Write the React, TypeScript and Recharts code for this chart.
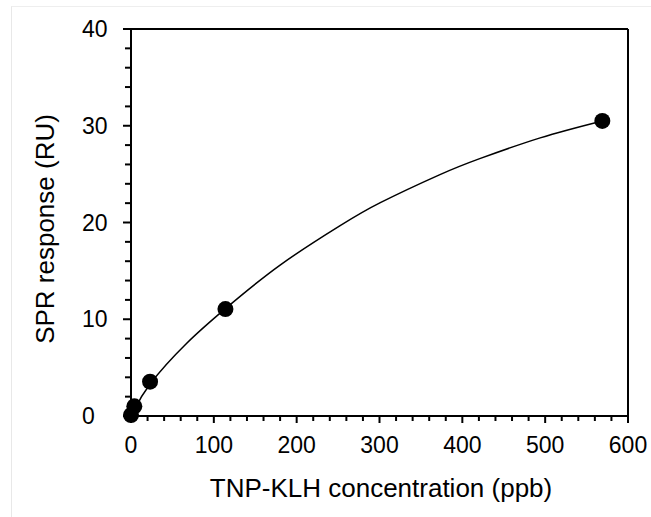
import React from "react";
import {
  ComposedChart,
  Line,
  Scatter,
  XAxis,
  YAxis,
  ReferenceLine,
  Label,
} from "recharts";

// measured points (concentration ppb, SPR response RU)
const pointX = [0, 4, 23, 114, 569];
const pointY = [0.1, 1.0, 3.55, 11.05, 30.5];

// fitted curve
const curveX = [0, 4, 23, 67, 114, 180, 252, 301, 373, 421, 494, 569];
const curveY = [0, 0.6, 3.3, 7.5, 11.1, 15.6, 19.65, 22.05, 24.95, 26.6, 28.75, 30.5];

const xTicks = [
  0, 20, 40, 60, 80, 100, 120, 140, 160, 180, 200, 220, 240, 260, 280, 300,
  320, 340, 360, 380, 400, 420, 440, 460, 480, 500, 520, 540, 560, 580, 600,
];
const xLabels = [0, 100, 200, 300, 400, 500, 600];

const yTicks = [0, 2, 4, 6, 8, 10, 12, 14, 16, 18, 20, 22, 24, 26, 28, 30, 32, 34, 36, 38, 40];
const yLabels = [0, 10, 20, 30, 40];

const points = pointX.map((x, i) => ({ x, y: pointY[i] }));
const curve = curveX.map((x, i) => ({ x, y: curveY[i] }));

const FONT = "'Liberation Sans', Arial, Helvetica, sans-serif";

const XTick = (props: any) => {
  const { x, y, payload } = props;
  const major = xLabels.includes(payload.value);
  return (
    <g>
      <line x1={x} x2={x} y1={y} y2={y + (major ? 7 : 5)} stroke="#000" strokeWidth={2} />
      {major && (
        <text x={x} y={y + 37} textAnchor="middle" fontSize={23} fontFamily={FONT} fill="#000">
          {payload.value}
        </text>
      )}
    </g>
  );
};

const YTick = (props: any) => {
  const { x, y, payload } = props;
  const major = yLabels.includes(payload.value);
  return (
    <g>
      <line x1={x} x2={x - (major ? 8 : 6)} y1={y} y2={y} stroke="#000" strokeWidth={2} />
      {major && (
        <text x={82} y={y + 8} textAnchor="start" fontSize={23} fontFamily={FONT} fill="#000">
          {payload.value}
        </text>
      )}
    </g>
  );
};

const Dot = (props: any) => <circle cx={props.cx} cy={props.cy} r={8} fill="#000" />;

export default function App() {
  return (
    <div style={{ position: "absolute", left: 0, top: 0, width: 651, height: 517, background: "#fff" }}>
      <div
        style={{
          position: "absolute",
          left: 11,
          top: 6,
          right: 0,
          bottom: 0,
          borderLeft: "1px solid #e8e8e8",
          borderTop: "1px solid #eeeeee",
        }}
      />
      <ComposedChart
        width={651}
        height={517}
        margin={{ top: 29, right: 23, left: 0, bottom: 0 }}
        style={{ position: "absolute", left: 0, top: 0 }}
      >
        <XAxis
          dataKey="x"
          type="number"
          domain={[0, 600]}
          ticks={xTicks}
          interval={0}
          height={101}
          tickLine={false}
          tickSize={0}
          tickMargin={0}
          tick={<XTick />}
          axisLine={{ stroke: "#000", strokeWidth: 2 }}
        >
          <Label
            content={() => (
              <text x={381} y={497} textAnchor="middle" fontSize={26} fontFamily={FONT} fill="#000">
                TNP-KLH concentration (ppb)
              </text>
            )}
          />
        </XAxis>
        <YAxis
          dataKey="y"
          type="number"
          domain={[0, 40]}
          ticks={yTicks}
          interval={0}
          width={131}
          tickLine={false}
          tickSize={0}
          tickMargin={0}
          tick={<YTick />}
          axisLine={{ stroke: "#000", strokeWidth: 2 }}
        >
          <Label
            content={() => (
              <text
                x={54}
                y={229}
                transform="rotate(-90, 54, 229)"
                textAnchor="middle"
                fontSize={26}
                fontFamily={FONT}
                fill="#000"
              >
                SPR response (RU)
              </text>
            )}
          />
        </YAxis>
        <ReferenceLine y={40} stroke="#000" strokeWidth={2} />
        <ReferenceLine x={600} stroke="#000" strokeWidth={2} />
        <Line
          data={curve}
          dataKey="y"
          type="natural"
          stroke="#000"
          strokeWidth={1.5}
          dot={false}
          activeDot={false}
          isAnimationActive={false}
        />
        <Scatter data={points} dataKey="y" shape={<Dot />} isAnimationActive={false} />
      </ComposedChart>
    </div>
  );
}
